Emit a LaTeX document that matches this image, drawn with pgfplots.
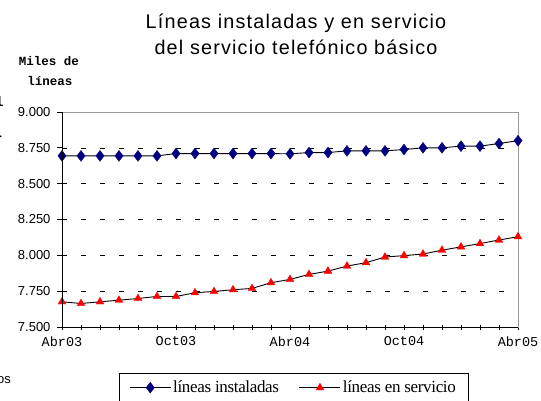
\documentclass[border=0pt]{standalone}
\usepackage{fontspec}
\setmainfont{Liberation Sans}
\newfontfamily\titlefont[LetterSpace=6]{Liberation Sans}
\newfontfamily\monofont{Liberation Mono}
\newfontfamily\legfont[LetterSpace=-2]{Liberation Serif}
\usepackage{pgfplots}
\pgfplotsset{compat=1.18}
\begin{document}
\begin{tikzpicture}
\path[use as bounding box] (0,0) rectangle (541bp,-401bp);
\node[anchor=base, inner sep=0, font=\titlefont\fontsize{19.8bp}{26bp}\selectfont] at (296bp,-28bp) {Líneas instaladas y en servicio};
\node[anchor=base, inner sep=0, font=\titlefont\fontsize{19.8bp}{26bp}\selectfont] at (296bp,-54bp) {del servicio telefónico básico};
\node[anchor=base, inner sep=0, font=\monofont\bfseries\fontsize{12.5bp}{20bp}\selectfont] at (49bp,-65bp) {Miles de};
\node[anchor=base, inner sep=0, font=\monofont\bfseries\fontsize{12.5bp}{20bp}\selectfont] at (50bp,-85bp) {líneas};
\node[anchor=base west, inner sep=0, font=\monofont\bfseries\fontsize{14bp}{14bp}\selectfont] at (-5bp,-106bp) {l};
\node[anchor=base west, inner sep=0, font=\monofont\bfseries\fontsize{14bp}{14bp}\selectfont] at (-6bp,-143bp) {r};
\node[anchor=base east, inner sep=0, font=\fontsize{13bp}{13bp}\selectfont] at (11bp,-383bp) {os};
\begin{axis}[
  at={(62bp,-327bp)}, anchor=south west,
  scale only axis, width=456bp, height=215bp,
  xmin=0, xmax=24, ymin=7500, ymax=9000,
  xtick={0,...,24},
  xticklabels={Abr03,,,,,,Oct03,,,,,,Abr04,,,,,,Oct04,,,,,,Abr05},
  ytick={7500,7750,8000,8250,8500,8750,9000},
  xtick pos=bottom, ytick pos=left,
  tick align=outside, major tick length=5bp,
  x tick style={yshift=2.5bp, black, line width=0.8bp},
  y tick style={black, line width=0.8bp},
  ymajorgrids,
  major grid style={black, dash pattern=on 5bp off 14bp, line width=0.6bp},
  axis line style={gray!80, line width=0.8bp},
  x tick label style={font=\monofont\fontsize{13.5bp}{13.5bp}\selectfont, yshift=-1bp},
  y tick label style={font=\fontsize{13bp}{13bp}\selectfont, xshift=-3bp},
  /pgf/number format/.cd, 1000 sep={.}, assume math mode=true, /pgfplots/.cd,
  legend columns=2,
  legend style={at={(axis description cs:0.125,-0.2126)}, anchor=north west,
    draw=black, line width=0.6bp, inner xsep=10bp, inner ysep=6bp,
    font=\legfont\fontsize{17bp}{17bp}\selectfont,
    /tikz/every even column/.append style={column sep=18bp}},
  legend image code/.code={\draw[mark repeat=2,mark phase=2,#1] plot coordinates {(0bp,0bp)(20.5bp,0bp)(41bp,0bp)};},
  clip=false,
  after end axis/.code={
    \draw[black, line width=0.9bp] (rel axis cs:0,0) -- (rel axis cs:1,0);
    \draw[black, line width=0.9bp] (rel axis cs:0,0) -- (rel axis cs:0,1);
  },
]
\addplot[black, line width=0.9bp, mark=diamond*, mark size=5.5bp, mark options={fill=blue!50!black, draw=blue!50!black, line width=0.3bp}]
coordinates {
(0,8694)(1,8694)(2,8694)(3,8694)(4,8694)(5,8694)(6,8710)(7,8710)(8,8710)(9,8710)(10,8710)(11,8710)(12,8708)
(13,8717)(14,8717)(15,8729)(16,8729)(17,8729)(18,8738)(19,8750)(20,8750)(21,8762)(22,8762)(23,8780)(24,8800)};
\addlegendentry{líneas instaladas}
\addplot[black, line width=0.9bp, mark=triangle*, mark size=4.5bp, mark options={fill=red, draw=red, line width=0.3bp}]
coordinates {
(0,7676)(1,7664)(2,7676)(3,7687)(4,7699)(5,7713)(6,7713)(7,7739)(8,7748)(9,7760)(10,7769)(11,7809)(12,7832)
(13,7867)(14,7890)(15,7925)(16,7949)(17,7988)(18,7998)(19,8009)(20,8036)(21,8059)(22,8082)(23,8107)(24,8130)};
\addlegendentry{líneas en servicio}
\end{axis}
\end{tikzpicture}
\end{document}
